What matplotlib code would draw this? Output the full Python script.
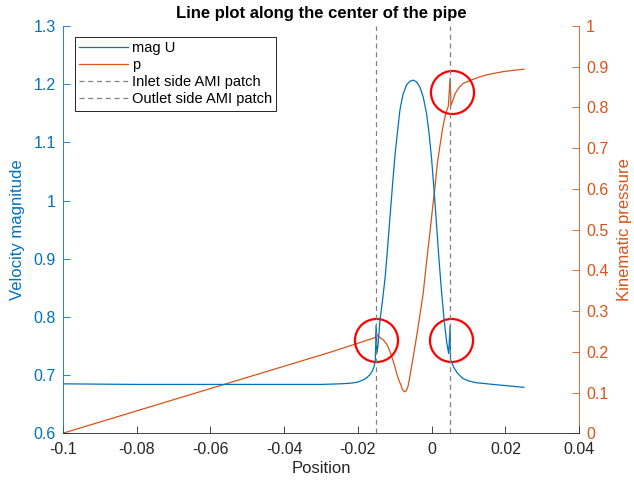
import matplotlib
matplotlib.use("Agg")
import matplotlib.pyplot as plt

plt.rcParams['font.family'] = ['Liberation Sans', 'DejaVu Sans']

# values
pos_u = [-0.1, -0.08, -0.06, -0.04, -0.03, -0.025, -0.0221, -0.020, -0.0185,
         -0.0175, -0.0167, -0.0160, -0.0156, -0.0153, -0.0150, -0.0149, -0.0146,
         -0.0140, -0.0133, -0.0126, -0.0120, -0.0113, -0.0106, -0.0099, -0.0092,
         -0.0086, -0.0078, -0.0068, -0.0059, -0.0050, -0.0041, -0.0032, -0.0023,
         -0.0014, -0.0007, 0.0, 0.0007, 0.00135, 0.0020, 0.0027, 0.0034, 0.0041,
         0.0046, 0.0050, 0.0051, 0.0054, 0.0060, 0.0070, 0.0085, 0.0100, 0.0120,
         0.0166, 0.0200, 0.0250]
mag_u = [0.685, 0.684, 0.684, 0.684, 0.684, 0.685, 0.686, 0.688, 0.692,
         0.696, 0.701, 0.708, 0.715, 0.725, 0.786, 0.738, 0.748,
         0.795, 0.830, 0.869, 0.915, 0.972, 1.028, 1.081, 1.122,
         1.156, 1.182, 1.199, 1.205, 1.207, 1.204, 1.195, 1.178,
         1.150, 1.115, 1.070, 1.013, 0.955, 0.897, 0.841, 0.793, 0.755,
         0.737, 0.785, 0.726, 0.722, 0.713, 0.703, 0.694, 0.690, 0.687,
         0.684, 0.682, 0.679]

pos_p = [-0.1, -0.0275, -0.0153, -0.0150, -0.0148, -0.0144, -0.0140, -0.0131,
         -0.0122, -0.0115, -0.0108, -0.0101, -0.0095, -0.0088, -0.0084, -0.0079,
         -0.0074, -0.0069, -0.0064, -0.0059, -0.0050, -0.0041, -0.0032, -0.0023,
         -0.0014, -0.0005, 0.0002, 0.0009, 0.0015, 0.0022, 0.0029, 0.0036,
         0.0041, 0.0045, 0.0050, 0.0052, 0.0056, 0.0062, 0.0068, 0.0076, 0.0085,
         0.0100, 0.0112, 0.0130, 0.0149, 0.0170, 0.0194, 0.0220, 0.0250]
p = [0.0, 0.199, 0.235, 0.249, 0.240, 0.238, 0.235, 0.229,
     0.219, 0.205, 0.188, 0.168, 0.147, 0.128, 0.120, 0.107,
     0.102, 0.104, 0.116, 0.140, 0.188, 0.237, 0.290, 0.344,
     0.420, 0.491, 0.550, 0.605, 0.660, 0.704, 0.745, 0.777,
     0.793, 0.803, 0.872, 0.805, 0.814, 0.830, 0.841, 0.851, 0.859,
     0.865, 0.869, 0.875, 0.880, 0.884, 0.888, 0.891, 0.894]

ami_inlet = -0.015
ami_outlet = 0.005

# red circles marking the spikes (position, pressure axis value)
circle_pos = [-0.0150, 0.0052, 0.0055]
circle_p = [0.229, 0.229, 0.838]

blue = '#0072BD'
orange = '#D95319'
dark = '#262626'

fig = plt.figure(figsize=(6.34, 4.88), dpi=100)
ax = fig.add_axes([0.0989, 0.1121, 0.8148, 0.8346])
ax2 = ax.twinx()

l1, = ax.plot(pos_u, mag_u, color=blue, lw=0.9, label='mag U')
l2, = ax2.plot(pos_p, p, color=orange, lw=0.9, label='p')
l3 = ax.axvline(ami_inlet, color='#808080', lw=0.9, ls=(0, (4, 3)),
                label='Inlet side AMI patch')
l4 = ax.axvline(ami_outlet, color='#808080', lw=0.9, ls=(0, (4, 3)),
                label='Outlet side AMI patch')
ax2.plot(circle_pos, circle_p, 'o', ms=31, mfc='none', mec='#FF0000', mew=1.6,
         zorder=5)

ax.set_xlim(-0.1, 0.04)
ax.set_ylim(0.6, 1.3)
ax2.set_ylim(0, 1)
ax.set_xticks([-0.1, -0.08, -0.06, -0.04, -0.02, 0, 0.02, 0.04])
ax.set_xticklabels(['-0.1', '-0.08', '-0.06', '-0.04', '-0.02', '0', '0.02', '0.04'])
ax.set_yticks([0.6, 0.7, 0.8, 0.9, 1.0, 1.1, 1.2, 1.3])
ax.set_yticklabels(['0.6', '0.7', '0.8', '0.9', '1', '1.1', '1.2', '1.3'])
ax2.set_yticks([i / 10 for i in range(11)])
ax2.set_yticklabels(['0', '0.1', '0.2', '0.3', '0.4', '0.5', '0.6', '0.7', '0.8', '0.9', '1'])

for a in (ax, ax2):
    a.spines['top'].set_visible(False)
ax.spines['right'].set_visible(False)
ax2.spines['left'].set_visible(False)
ax2.spines['bottom'].set_visible(False)
ax.spines['left'].set_color(blue)
ax.spines['bottom'].set_color(dark)
ax2.spines['right'].set_color(orange)
for s in ('left', 'bottom'):
    ax.spines[s].set_linewidth(0.6)
ax2.spines['right'].set_linewidth(0.6)

ax.tick_params(axis='x', direction='in', length=5, width=0.6, colors=dark,
               labelsize=11.5, pad=6)
ax.tick_params(axis='y', direction='in', length=5, width=0.6, colors=blue,
               labelsize=11.5, pad=5)
ax2.tick_params(axis='y', direction='in', length=5, width=0.6, colors=orange,
                labelsize=11.5, pad=5)

ax.set_xlabel('Position', fontsize=12, color=dark, labelpad=3)
ax.set_ylabel('Velocity magnitude', fontsize=12, color=blue, labelpad=6)
ax2.set_ylabel('Kinematic pressure', fontsize=12, color=orange, labelpad=6)
ax.set_title('Line plot along the center of the pipe', fontsize=12,
             fontweight='bold', color='black', pad=6)

leg = ax.legend(handles=[l1, l2, l3, l4], loc='upper left',
                bbox_to_anchor=(0.024, 0.973), borderaxespad=0, fontsize=10.5,
                handlelength=3.3, labelspacing=0.2, handletextpad=0.3,
                borderpad=0.3, fancybox=False, framealpha=1)
leg.get_frame().set_edgecolor('black')
leg.get_frame().set_linewidth(0.6)
leg.set_zorder(10)
ax.set_zorder(ax2.get_zorder() + 1)
ax.patch.set_visible(False)

fig.savefig('out.png', dpi=100)
